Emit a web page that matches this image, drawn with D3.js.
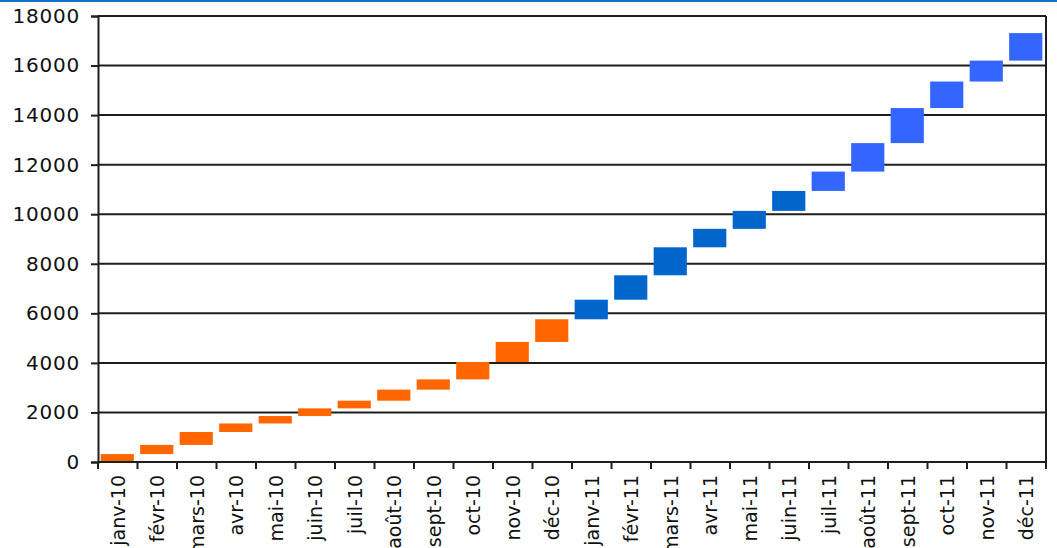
<!DOCTYPE html>
<html>
<head>
<meta charset="utf-8">
<script src="https://cdn.jsdelivr.net/npm/d3@7"></script>
<style>
  html, body { margin: 0; padding: 0; background: #fff; }
  svg { display: block; }
  text { font-family: "DejaVu Sans", Verdana, sans-serif; fill: #111; }
</style>
</head>
<body>
<svg id="chart" width="1057" height="548"></svg>
<script>
// Months shown on the x axis
const months = [
  "janv-10", "févr-10", "mars-10", "avr-10", "mai-10", "juin-10",
  "juil-10", "août-10", "sept-10", "oct-10", "nov-10", "déc-10",
  "janv-11", "févr-11", "mars-11", "avr-11", "mai-11", "juin-11",
  "juil-11", "août-11", "sept-11", "oct-11", "nov-11", "déc-11"
];

// Monthly increments; each bar floats from the previous running total
const increments = [
  320, 370, 520, 345, 300, 310, 310, 445, 415, 700, 810, 915,
  790, 985, 1130, 745, 725, 805, 780, 1150, 1415, 1070, 845, 1110
];

// Period group of each month (drives the bar colour)
const periods = [
  "2010", "2010", "2010", "2010", "2010", "2010",
  "2010", "2010", "2010", "2010", "2010", "2010",
  "2011-S1", "2011-S1", "2011-S1", "2011-S1", "2011-S1", "2011-S1",
  "2011-S2", "2011-S2", "2011-S2", "2011-S2", "2011-S2", "2011-S2"
];

const yTicks = [0, 2000, 4000, 6000, 8000, 10000, 12000, 14000, 16000, 18000];

const periodColor = { "2010": "#ff6600", "2011-S1": "#0066cc", "2011-S2": "#3366ff" };

const ends = Array.from(d3.cumsum(increments));
const rows = months.map((m, i) => ({
  month: m,
  start: i === 0 ? 0 : ends[i - 1],
  end: ends[i],
  period: periods[i]
}));

const svg = d3.select("#chart");
const margin = { left: 98, right: 11, top: 16, bottom: 86 };
const W = 1057, H = 548;

const x = d3.scaleBand().domain(months).range([margin.left, W - margin.right]).padding(0);
const y = d3.scaleLinear().domain([0, 18000]).range([H - margin.bottom, margin.top]);

// Thin header rule across the top
svg.append("rect").attr("x", 0).attr("y", 0).attr("width", W).attr("height", 2).attr("fill", "#1570c4");

// Horizontal grid
svg.append("g")
  .selectAll("line")
  .data(yTicks.filter(t => t > 0))
  .join("line")
  .attr("x1", margin.left).attr("x2", W - margin.right)
  .attr("y1", d => y(d)).attr("y2", d => y(d))
  .attr("stroke", "#1e1e1e").attr("stroke-width", 2);

// Right frame edge
svg.append("line")
  .attr("x1", W - margin.right).attr("x2", W - margin.right)
  .attr("y1", margin.top).attr("y2", y(0))
  .attr("stroke", "#1e1e1e").attr("stroke-width", 2);

// Floating bars
const step = x.step();
const barW = step * 0.84;
svg.append("g")
  .selectAll("rect")
  .data(rows)
  .join("rect")
  .attr("x", d => x(d.month) + (step - barW) / 2 - 0.5)
  .attr("width", barW)
  .attr("y", d => y(d.end))
  .attr("height", d => y(d.start) - y(d.end))
  .attr("fill", d => periodColor[d.period]);

// Y axis
const yAxis = d3.axisLeft(y).tickValues(yTicks).tickSize(7).tickPadding(11).tickFormat(d3.format("d"));
const gy = svg.append("g").attr("transform", `translate(${margin.left},0)`).call(yAxis);
gy.select(".domain").attr("stroke", "#1e1e1e").attr("stroke-width", 2);
gy.selectAll(".tick line").attr("stroke", "#1e1e1e").attr("stroke-width", 2);
gy.selectAll(".tick text")
  .attr("font-size", 20)
  .attr("letter-spacing", "0.8px")
  .attr("font-family", "DejaVu Sans, Verdana, sans-serif")
  .attr("fill", "#111");

// X axis: ticks at category boundaries
const gx = svg.append("g").attr("transform", `translate(0,${y(0)})`);
gx.append("line")
  .attr("x1", margin.left).attr("x2", W - margin.right)
  .attr("stroke", "#1e1e1e").attr("stroke-width", 2);
const bounds = months.map(m => x(m)).concat([W - margin.right]);
gx.selectAll("line.tk")
  .data(bounds)
  .join("line")
  .attr("class", "tk")
  .attr("x1", d => d).attr("x2", d => d)
  .attr("y1", 0).attr("y2", 7)
  .attr("stroke", "#1e1e1e").attr("stroke-width", 2);

gx.selectAll("text")
  .data(months)
  .join("text")
  .attr("transform", d => `translate(${x(d) + step / 2},13) rotate(-90)`)
  .attr("text-anchor", "end")
  .attr("dominant-baseline", "central")
  .attr("font-size", 19)
  .text(d => d);
</script>
</body>
</html>
